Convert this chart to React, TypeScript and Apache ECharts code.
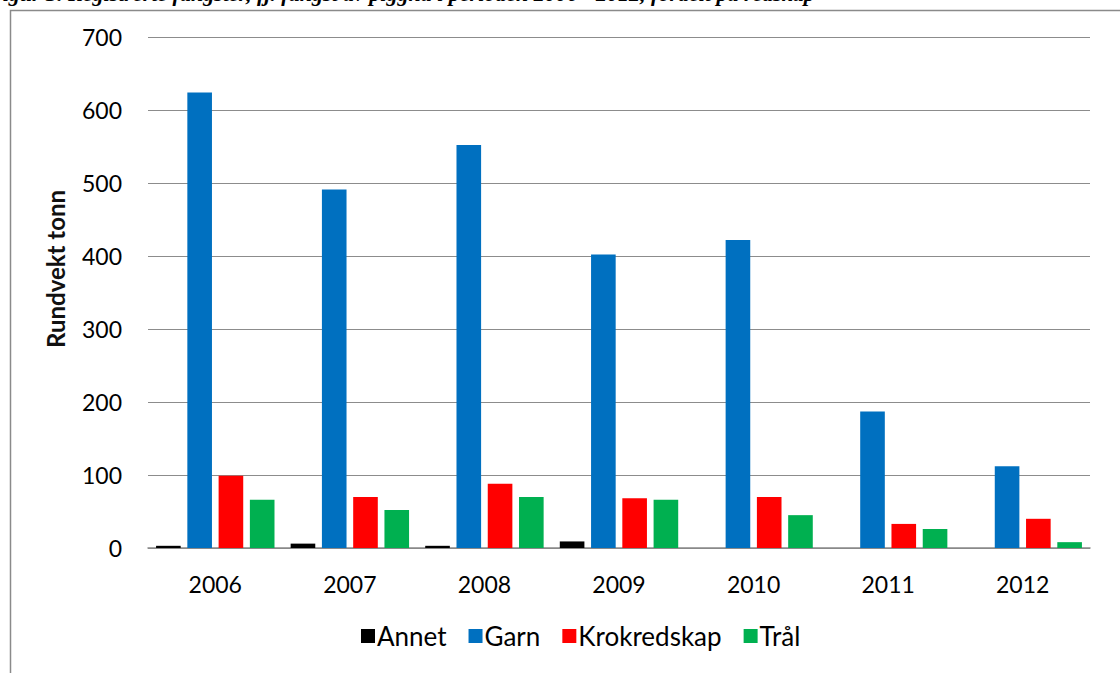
import React, { useEffect, useRef } from "react";
import * as echarts from "echarts";

const years = ["2006", "2007", "2008", "2009", "2010", "2011", "2012"];
const annet = [3, 6, 3, 9, 0, 0, 0];
const garn = [624, 491, 552, 402, 422, 187, 112];
const krokredskap = [99, 70, 88, 68, 70, 33, 40];
const tral = [66, 52, 70, 66, 45, 26, 8];
const yTicks = [0, 100, 200, 300, 400, 500, 600, 700];

const caption = "Figur 3. Registrerte fangster, fj. fangst av pigghå i perioden 2006 - 2012, fordelt på redskap";
const yTitle = "Rundvekt tonn";

export default function App() {
  const ref = useRef<HTMLDivElement>(null);
  useEffect(() => {
    if (!ref.current) return;
    const chart = echarts.init(ref.current, null, { renderer: "svg" });
    const font = "Lato, 'Open Sans', sans-serif";
    const mk = (name: string, data: number[], color: string) => ({
      name,
      type: "bar",
      data,
      itemStyle: { color },
      barGap: "27%",
      barCategoryGap: "12%",
    });
    chart.setOption({
      animation: false,
      backgroundColor: "#ffffff",
      textStyle: { fontFamily: font },
      graphic: [
        {
          type: "rect",
          shape: { x: 10.5, y: 10.5, width: 1200, height: 800 },
          style: { fill: "none", stroke: "#8a8a8a", lineWidth: 1.5 },
          silent: true,
        },
        {
          type: "text",
          x: -12,
          y: 4,
          style: {
            text: caption,
            font: "italic bold 22px 'Liberation Serif', serif",
            fill: "#000",
            verticalAlign: "bottom",
          },
          silent: true,
        },
        {
          type: "text",
          x: 55,
          y: 269,
          rotation: Math.PI / 2,
          style: {
            text: yTitle,
            font: "bold 24px Lato, sans-serif",
            fill: "#111",
            align: "center",
            verticalAlign: "middle",
          },
          silent: true,
        },
      ],
      grid: { left: 148, right: 30, top: 37, bottom: 125 },
      legend: {
        bottom: 19,
        left: 356,
        itemWidth: 14,
        itemHeight: 14,
        itemGap: 22,
        icon: "rect",
        textStyle: { fontSize: 26, color: "#000", fontFamily: font, padding: [0, 0, 0, -3] },
        data: ["Annet", "Garn", "Krokredskap", "Trål"],
      },
      xAxis: {
        type: "category",
        data: years,
        axisLine: { lineStyle: { color: "#888", width: 1.5 } },
        axisTick: { show: false },
        axisLabel: { fontSize: 23, color: "#000", margin: 24, fontFamily: font },
      },
      yAxis: {
        type: "value",
        min: 0,
        max: 700,
        interval: 100,
        axisLine: { show: false },
        axisTick: { show: false },
        axisLabel: {
          fontSize: 23,
          color: "#000",
          margin: 26,
          fontFamily: font,
          formatter: (v: number) => (yTicks.includes(v) ? String(v) : ""),
        },
        splitLine: { lineStyle: { color: "#8c8c8c", width: 1 } },
      },
      series: [
        mk("Annet", annet, "#000000"),
        mk("Garn", garn, "#0070c0"),
        mk("Krokredskap", krokredskap, "#ff0000"),
        mk("Trål", tral, "#00b050"),
      ],
    });
    return () => chart.dispose();
  }, []);
  return (
    <div
      ref={ref}
      style={{ position: "fixed", left: 0, top: 0, width: 1120, height: 673, background: "#fff" }}
    />
  );
}
